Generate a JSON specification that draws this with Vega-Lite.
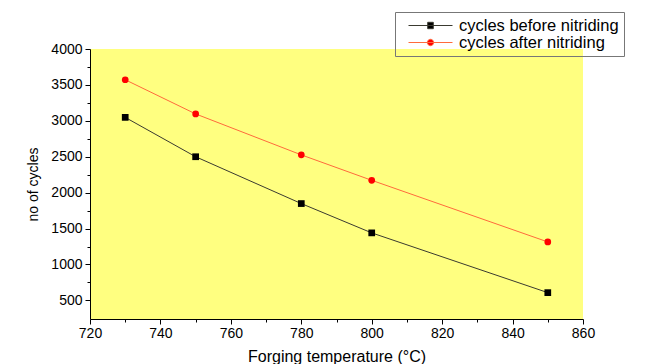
{
  "$schema": "https://vega.github.io/schema/vega-lite/v6.json",
  "width": 493,
  "height": 270,
  "autosize": "none",
  "padding": {"left": 90, "top": 49, "right": 76, "bottom": 45},
  "background": "white",
  "config": {
    "font": "Liberation Sans",
    "view": {"fill": "#FFFF80", "stroke": null}
  },
  "data": {
    "values": [
      {"temp": 730, "cycles": 3048, "series": "cycles before nitriding"},
      {"temp": 750, "cycles": 2500, "series": "cycles before nitriding"},
      {"temp": 780, "cycles": 1848, "series": "cycles before nitriding"},
      {"temp": 800, "cycles": 1440, "series": "cycles before nitriding"},
      {"temp": 850, "cycles": 608, "series": "cycles before nitriding"},
      {"temp": 730, "cycles": 3572, "series": "cycles after nitriding"},
      {"temp": 750, "cycles": 3096, "series": "cycles after nitriding"},
      {"temp": 780, "cycles": 2526, "series": "cycles after nitriding"},
      {"temp": 800, "cycles": 2172, "series": "cycles after nitriding"},
      {"temp": 850, "cycles": 1314, "series": "cycles after nitriding"}
    ]
  },
  "encoding": {
    "x": {
      "field": "temp", "type": "quantitative",
      "scale": {"domain": [720, 860], "nice": false, "zero": false},
      "axis": {
        "title": "Forging temperature (°C)",
        "titleFontSize": 16, "titleFontWeight": "normal", "titleColor": "black", "titlePadding": 8,
        "values": [720, 730, 740, 750, 760, 770, 780, 790, 800, 810, 820, 830, 840, 850, 860],
        "labelExpr": "datum.value % 20 === 0 ? datum.label : ''",
        "labelFontSize": 14, "labelColor": "black", "labelPadding": 2, "labelFlush": false,
        "tickSize": {"condition": {"test": "datum.value % 20 === 0", "value": 5}, "value": 3},
        "tickColor": "black", "domainColor": "black", "grid": false
      }
    },
    "y": {
      "field": "cycles", "type": "quantitative",
      "scale": {"domain": [241, 4000], "nice": false, "zero": false},
      "axis": {
        "title": "no of cycles",
        "titleFontSize": 14, "titleFontWeight": "normal", "titleColor": "black", "titlePadding": 10,
        "values": [500, 750, 1000, 1250, 1500, 1750, 2000, 2250, 2500, 2750, 3000, 3250, 3500, 3750, 4000],
        "labelExpr": "datum.value % 500 === 0 ? datum.value : ''",
        "labelFontSize": 14, "labelColor": "black", "labelPadding": 3, "labelFlush": false,
        "tickSize": {"condition": {"test": "datum.value % 500 === 0", "value": 5}, "value": 3},
        "tickColor": "black", "domainColor": "black", "grid": false
      }
    }
  },
  "resolve": {"legend": {"stroke": "independent", "shape": "independent", "fill": "independent"}},
  "layer": [
    {
      "mark": {"type": "line", "strokeWidth": 1},
      "encoding": {
        "stroke": {
          "field": "series", "type": "nominal",
          "scale": {"domain": ["cycles before nitriding", "cycles after nitriding"], "range": ["#3a3a30", "#ff6a3c"]},
          "legend": {
            "title": null,
            "orient": "none", "legendX": 305, "legendY": -37,
            "strokeColor": "#777777", "padding": 5,
            "labelFontSize": 16.5, "labelColor": "black", "labelOffset": 42, "labelLimit": 400,
            "symbolSize": 256, "rowPadding": -4,
            "encode": {
              "symbols": {
                "update": {
                  "shape": {"signal": "datum.value === 'cycles before nitriding' ? 'M0,0H5.5M2.4,-0.4H3.1V0.4H2.4Z' : 'M0,0H5.5M3.15,0A0.4,0.4 0 1 1 2.35,0A0.4,0.4 0 1 1 3.15,0Z'"},
                  "fill": {"signal": "datum.value === 'cycles before nitriding' ? '#000000' : '#ff0000'"},
                  "stroke": {"signal": "datum.value === 'cycles before nitriding' ? '#888888' : '#ff8080'"},
                  "strokeWidth": {"value": 1},
                  "opacity": {"value": 1}
                }
              }
            }
          }
        }
      }
    },
    {
      "mark": {"type": "point", "filled": true, "opacity": 1, "size": 45},
      "encoding": {
        "shape": {
          "field": "series", "type": "nominal",
          "scale": {"domain": ["cycles before nitriding", "cycles after nitriding"], "range": ["square", "circle"]},
          "legend": null
        },
        "fill": {
          "field": "series", "type": "nominal",
          "scale": {"domain": ["cycles before nitriding", "cycles after nitriding"], "range": ["#000000", "#ff0000"]},
          "legend": null
        }
      }
    }
  ]
}
